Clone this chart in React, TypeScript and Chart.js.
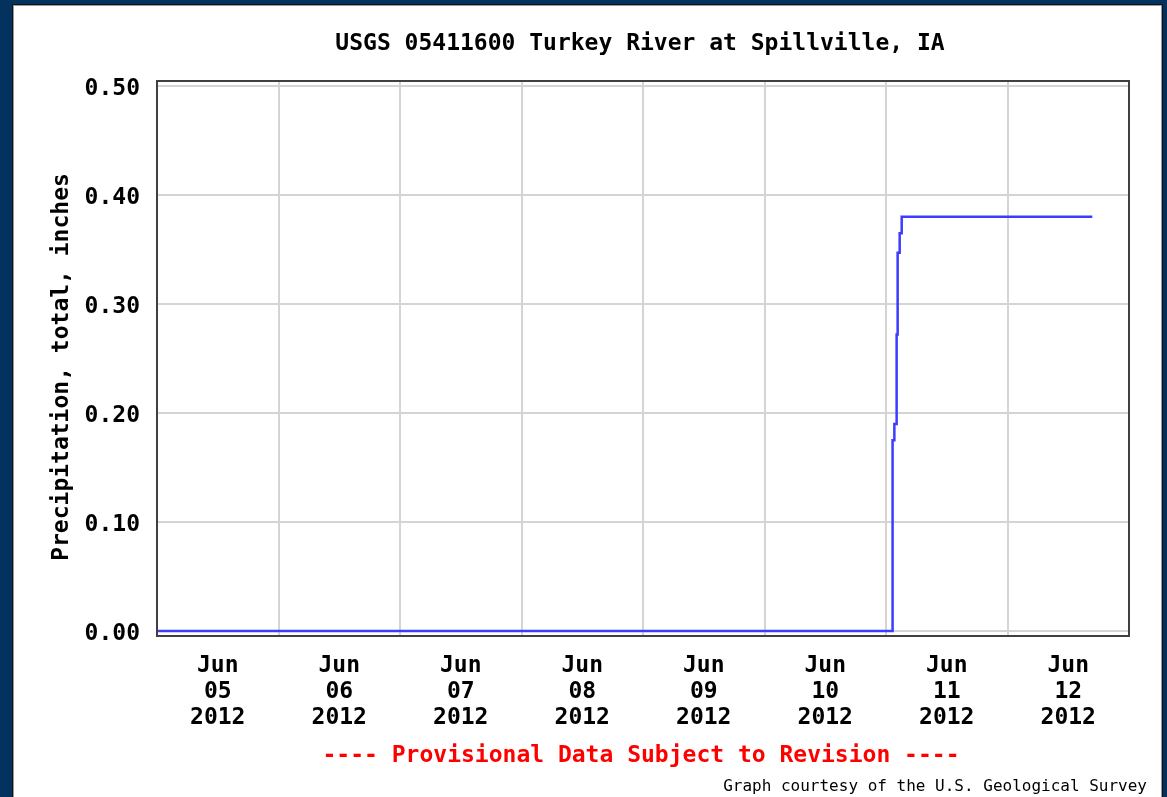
import React, { useEffect, useRef } from "react";
import { Chart, registerables } from "chart.js";

Chart.register(...registerables);

// ---- data ----
const chartTitle = "USGS 05411600 Turkey River at Spillville, IA";
const yAxisTitle = "Precipitation, total, inches";
const footerText = "---- Provisional Data Subject to Revision ----";
const creditText = "Graph courtesy of the U.S. Geological Survey";

const monthLabel = "Jun";
const yearLabel = "2012";
const dayLabels = ["05", "06", "07", "08", "09", "10", "11", "12"];

// hours since Jun 05 2012 00:00
const precipHours = [
  0, 145.25, 145.3, 145.65, 145.65, 146.1, 146.1, 146.3, 146.3, 146.7, 146.7, 147.1, 147.1, 184.75,
];
const precipInches = [
  0, 0, 0.175, 0.175, 0.19, 0.19, 0.272, 0.272, 0.347, 0.347, 0.365, 0.365, 0.38, 0.38,
];

const yTickValues = [0, 0.1, 0.2, 0.3, 0.4, 0.5];
const yMin = -0.0046;
const yMax = 0.5046;
const hoursPerDay = 24;

const FONT = '"DejaVu Sans Mono", "Liberation Mono", monospace';
const GRID = "#d4d4d4";

export default function App() {
  const canvasRef = useRef<HTMLCanvasElement | null>(null);

  useEffect(() => {
    const canvas = canvasRef.current;
    if (!canvas) return;

    const overlay = {
      id: "usgsOverlay",
      afterDatasetsDraw(chart: any) {
        const { ctx, chartArea } = chart;
        ctx.save();
        ctx.strokeStyle = "#404040";
        ctx.lineWidth = 2;
        ctx.strokeRect(
          chartArea.left,
          chartArea.top,
          chartArea.right - chartArea.left,
          chartArea.bottom - chartArea.top
        );
        ctx.restore();
      },
      afterDraw(chart: any) {
        const { ctx } = chart;
        ctx.save();
        ctx.fillStyle = "#000";
        ctx.textAlign = "center";
        ctx.textBaseline = "middle";
        ctx.font = `bold 23px ${FONT}`;
        ctx.fillText(chartTitle, 627, 39);

        ctx.save();
        ctx.translate(49, 362);
        ctx.rotate(-Math.PI / 2);
        ctx.fillText(yAxisTitle, 0, 0);
        ctx.restore();

        ctx.fillStyle = "#ff0000";
        ctx.fillText(footerText, 628, 751);

        ctx.fillStyle = "#000";
        ctx.font = `16px ${FONT}`;
        ctx.textAlign = "right";
        ctx.fillText(creditText, 1134, 782);
        ctx.restore();
      },
    };

    const chart = new Chart(canvas, {
      type: "line",
      data: {
        datasets: [
          {
            data: precipHours.map((h, i) => ({ x: h, y: precipInches[i] })),
            borderColor: "#3c3cff",
            borderWidth: 2.5,
            pointRadius: 0,
            tension: 0,
            fill: false,
          },
        ],
      },
      options: {
        animation: false,
        responsive: false,
        layout: { padding: { top: 76, left: 0, right: 32, bottom: 61 } },
        plugins: {
          legend: { display: false },
          title: { display: false },
          tooltip: { enabled: false },
        },
        scales: {
          x: {
            type: "linear",
            min: 0,
            max: dayLabels.length * hoursPerDay,
            border: { display: false },
            grid: {
              drawTicks: false,
              lineWidth: 2,
              color: (c: any) =>
                c.tick && c.tick.value % hoursPerDay === 0 ? GRID : "rgba(0,0,0,0)",
            },
            afterBuildTicks: (scale: any) => {
              const t: any[] = [];
              for (let i = 0; i < dayLabels.length; i++) {
                if (i > 0) t.push({ value: i * hoursPerDay });
                t.push({ value: i * hoursPerDay + hoursPerDay / 2 });
              }
              scale.ticks = t;
            },
            afterFit: (scale: any) => {
              scale.height = 100;
            },
            ticks: {
              autoSkip: false,
              maxRotation: 0,
              minRotation: 0,
              padding: 17,
              color: "#000",
              font: { family: FONT, size: 23, weight: "bold", lineHeight: 1.13 },
              callback: (v: any) => {
                const val = Number(v);
                if (val % hoursPerDay !== hoursPerDay / 2) return "";
                const d = Math.floor(val / hoursPerDay);
                return [monthLabel, dayLabels[d], yearLabel];
              },
            },
          },
          y: {
            type: "linear",
            min: yMin,
            max: yMax,
            border: { display: false },
            grid: { drawTicks: false, lineWidth: 2, color: GRID },
            afterBuildTicks: (scale: any) => {
              scale.ticks = yTickValues.map((v) => ({ value: v }));
            },
            afterFit: (scale: any) => {
              scale.width = 144;
            },
            ticks: {
              padding: 17,
              color: "#000",
              font: { family: FONT, size: 23, weight: "bold", lineHeight: 0.26 },
              callback: (v: any) => ["", Number(v).toFixed(2)],
            },
          },
        },
      },
      plugins: [overlay],
    });

    return () => chart.destroy();
  }, []);

  return (
    <div
      style={{
        position: "fixed",
        left: 0,
        top: 0,
        width: 1167,
        height: 797,
        background: "#04325e",
        overflow: "hidden",
      }}
    >
      <div
        style={{
          position: "absolute",
          left: 12,
          top: 4,
          width: 1151,
          height: 800,
          boxSizing: "border-box",
          background: "#fff",
          border: "1px solid #111",
          boxShadow: "inset 0 0 0 1px #999",
        }}
      >
        <canvas
          ref={canvasRef}
          width={1148}
          height={792}
          style={{ display: "block", width: 1148, height: 792, position: "absolute", left: 0, top: 0 }}
        />
      </div>
    </div>
  );
}
